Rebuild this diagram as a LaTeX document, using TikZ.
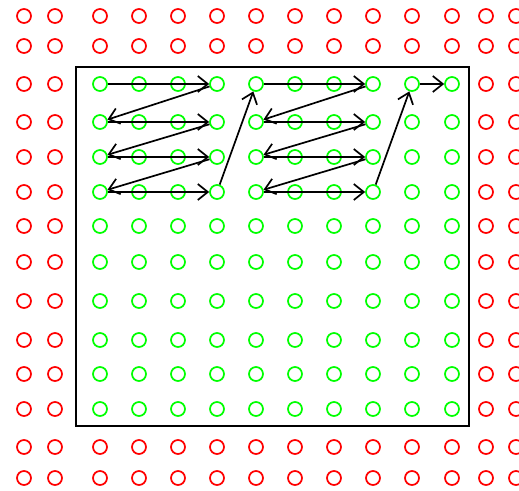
\documentclass[tikz,border=0pt]{standalone}
\usetikzlibrary{arrows.meta}
\definecolor{gridred}{HTML}{FF0000}
\definecolor{gridgreen}{HTML}{00FF00}

\begin{document}
\begin{tikzpicture}[x=1pt,y=-1pt,
 outer/.style={circle,draw=gridred,line width=1.7pt,minimum size=14pt,inner sep=0pt},
 inner/.style={circle,draw=gridgreen,line width=1.7pt,minimum size=14pt,inner sep=0pt},
 scan/.style={-{Straight Barb[length=10pt,width=16pt]},line width=1.7pt},
 frame/.style={draw,line width=1.9pt}]
\useasboundingbox (0,0) rectangle (519,490);
\draw[frame] (76,67) rectangle (469,426);
\foreach \r/\y in {1/16,2/46,3/84,4/122,5/157,6/192,7/226,8/262,9/301,10/340,11/374,12/409,13/447,14/478} {
 \foreach \c/\x in {1/24,2/55,3/100,4/139,5/178,6/217,7/256,8/295,9/334,10/373,11/412,12/452,13/486,14/516} {
  \pgfmathtruncatemacro\inside{(\r>2)&&(\r<13)&&(\c>2)&&(\c<13)}
  \ifnum\inside=1 \def\kind{inner}\else\def\kind{outer}\fi
  \node[\kind] (n\r-\c) at (\x,\y) {};
 }
}
% left and right block of the scan
\foreach \a/\b in {3/6,7/10} {
 \foreach \r in {3,...,6} {
  \draw[scan] (n\r-\a) -- (n\r-\b);
 }
 \foreach \r/\s in {3/4,4/5,5/6} {
  \draw[scan] (n\r-\b) -- (n\s-\a);
 }
}
\draw[scan] (n6-6) -- (n3-7);
\draw[scan] (n6-10) -- (n3-11);
\draw[scan] (n3-11) -- (n3-12);
\end{tikzpicture}
\end{document}
